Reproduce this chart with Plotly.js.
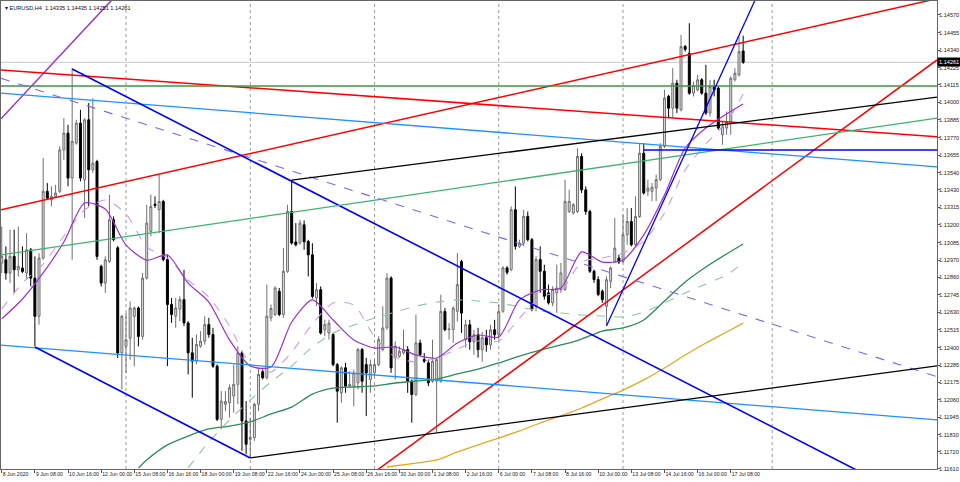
<!DOCTYPE html>
<html><head><meta charset="utf-8">
<script src="https://cdn.plot.ly/plotly-3.0.1.min.js"></script>
<style>html,body{margin:0;padding:0;background:#fff;}#chart{width:960px;height:482px;}</style>
</head><body><div id="chart"></div>
<script>
// ---- EURUSD H4 candles (bar index 0 = 8 Jun 2020 00:00) ----
const opens=[
1.12951,1.12973,1.12886,1.12995,1.12908,1.12919,1.12886,1.13038,1.12853,1.12604,
1.12984,1.13419,1.13364,1.13386,1.13419,1.13690,1.13799,1.13506,1.13734,1.13864,
1.13495,1.13886,1.13560,1.13614,1.12930,1.12821,1.12962,1.13234,1.13051,1.12365,
1.12408,1.12462,1.12604,1.12658,1.12473,1.12853,1.13158,1.13336,1.13300,1.13353,
1.12974,1.12681,1.12605,1.12650,1.12713,1.12561,1.12366,1.12312,1.12409,1.12442,
1.12550,1.12485,1.12279,1.11932,1.12030,1.12041,1.12084,1.12160,1.12366,1.11921,
1.11802,1.11813,1.12030,1.12242,1.12203,1.12594,1.12616,1.12767,1.12616,1.12898,
1.13288,1.13089,1.13082,1.13201,1.13092,1.13005,1.12723,1.12778,1.12517,1.12495,
1.12485,1.12289,1.12105,1.12268,1.12148,1.12148,1.12170,1.12387,1.12289,1.12192,
1.12235,1.12289,1.12387,1.12528,1.12854,1.12333,1.12344,1.12365,1.12387,1.12181,
1.12094,1.12430,1.12322,1.12300,1.12181,1.12181,1.12181,1.12636,1.12517,1.12517,
1.12636,1.12962,1.12451,1.12549,1.12438,1.12484,1.12386,1.12464,1.12418,1.12516,
1.12484,1.12637,1.12920,1.12909,1.13299,1.13061,1.13082,1.13256,1.13104,1.12670,
1.12974,1.12898,1.12757,1.12692,1.12757,1.12779,1.12779,1.13288,1.13278,1.13288,
1.13647,1.13429,1.13288,1.12898,1.12844,1.12768,1.12669,1.12832,1.12962,1.12984,
1.12962,1.13136,1.13223,1.13071,1.13255,1.13668,1.13420,1.13420,1.13441,1.13496,
1.13713,1.14039,1.13962,1.14125,1.13951,1.14364,1.14320,1.14060,1.14082,1.14147,
1.14060,1.13930,1.14104,1.14093,1.13788,1.13832,1.13875,1.14147,1.14179,1.14335];
const highs=[
1.13190,1.13060,1.13169,1.13169,1.13190,1.13060,1.13147,1.13050,1.12995,1.13016,
1.13636,1.13473,1.13452,1.13462,1.13713,1.13897,1.13853,1.14223,1.13886,1.13951,
1.13897,1.13995,1.14027,1.13625,1.12941,1.12995,1.13397,1.13256,1.13062,1.12614,
1.12625,1.12701,1.12669,1.12669,1.12886,1.13331,1.13397,1.13386,1.13527,1.13364,
1.13006,1.12724,1.12724,1.12735,1.12908,1.12572,1.12464,1.12485,1.12507,1.12605,
1.12594,1.12529,1.12290,1.12116,1.12116,1.12160,1.12290,1.12409,1.12377,1.12051,
1.11943,1.12041,1.12268,1.12257,1.12811,1.12681,1.12800,1.12789,1.13050,1.13332,
1.13494,1.13212,1.13234,1.13230,1.13103,1.13081,1.12821,1.12799,1.12582,1.12582,
1.12495,1.12300,1.12278,1.12300,1.12246,1.12257,1.12398,1.12398,1.12333,1.12322,
1.12322,1.12474,1.12669,1.12886,1.12865,1.12441,1.12409,1.12517,1.12409,1.12192,
1.12615,1.12452,1.12365,1.12322,1.12452,1.12333,1.12745,1.12658,1.12560,1.12669,
1.13017,1.12973,1.12581,1.12581,1.12516,1.12529,1.12503,1.12516,1.12549,1.12581,
1.12679,1.12931,1.12931,1.13321,1.13451,1.13104,1.13299,1.13288,1.13115,1.12996,
1.13061,1.12941,1.12811,1.12800,1.12941,1.12952,1.13495,1.13430,1.13343,1.13701,
1.13668,1.13451,1.13299,1.12909,1.12865,1.12779,1.12865,1.12930,1.13245,1.13006,
1.13266,1.13310,1.13310,1.13387,1.13734,1.13734,1.13496,1.13474,1.13528,1.13734,
1.14082,1.14049,1.14223,1.14147,1.14440,1.14375,1.14516,1.14136,1.14179,1.14158,
1.14245,1.14147,1.14147,1.14104,1.13875,1.13940,1.14168,1.14223,1.14429,1.14435];
const lows=[
1.12886,1.12843,1.12821,1.12756,1.12864,1.12886,1.12843,1.12799,1.12408,1.12549,
1.12973,1.13364,1.13321,1.13375,1.13408,1.13625,1.13452,1.12973,1.13723,1.13484,
1.13246,1.13321,1.13540,1.12973,1.12799,1.12756,1.12951,1.13093,1.12332,1.12126,
1.12234,1.12321,1.12278,1.12408,1.12451,1.12843,1.13125,1.13310,1.13147,1.12963,
1.12279,1.12561,1.12529,1.12572,1.12540,1.12225,1.12073,1.12290,1.12399,1.12420,
1.12464,1.12268,1.11921,1.11867,1.11986,1.11943,1.11975,1.12030,1.11726,1.11704,
1.11682,1.11791,1.11986,1.12192,1.12192,1.12572,1.12605,1.12605,1.12594,1.12887,
1.13071,1.13060,1.13071,1.13038,1.12864,1.12720,1.12669,1.12485,1.12474,1.12452,
1.12278,1.11910,1.12040,1.12105,1.12137,1.12018,1.12126,1.12105,1.11953,1.12105,
1.12213,1.12278,1.12376,1.12517,1.12235,1.12192,1.12333,1.12354,1.12105,1.11910,
1.12083,1.12344,1.12300,1.12148,1.12170,1.11847,1.12170,1.12506,1.12452,1.12430,
1.12571,1.12496,1.12399,1.12386,1.12353,1.12334,1.12308,1.12373,1.12386,1.12451,
1.12451,1.12627,1.12876,1.12898,1.13039,1.13050,1.13061,1.13093,1.12637,1.12637,
1.12757,1.12713,1.12681,1.12670,1.12627,1.12757,1.12768,1.13278,1.13267,1.13278,
1.13408,1.13267,1.12887,1.12822,1.12735,1.12692,1.12549,1.12788,1.12951,1.12945,
1.12951,1.13071,1.13060,1.13060,1.13245,1.13398,1.13387,1.13355,1.13355,1.13485,
1.13702,1.13897,1.13897,1.13930,1.13941,1.14331,1.14049,1.14038,1.14071,1.14049,
1.13918,1.13908,1.14038,1.13821,1.13723,1.13788,1.13788,1.14136,1.14168,1.14251];
const closes=[
1.12995,1.12886,1.12995,1.12908,1.12930,1.12897,1.13038,1.12853,1.12604,1.12984,
1.13419,1.13375,1.13386,1.13408,1.13690,1.13799,1.13506,1.13745,1.13864,1.13506,
1.13886,1.13560,1.13603,1.12995,1.12821,1.12973,1.13234,1.13104,1.12365,1.12604,
1.12451,1.12658,1.12658,1.12473,1.12853,1.13212,1.13321,1.13327,1.13353,1.12974,
1.12681,1.12616,1.12659,1.12713,1.12561,1.12366,1.12312,1.12420,1.12442,1.12550,
1.12485,1.12279,1.11932,1.12051,1.12047,1.12138,1.12160,1.12366,1.11921,1.11769,
1.11813,1.12030,1.12225,1.12203,1.12605,1.12655,1.12789,1.12616,1.12898,1.13288,
1.13082,1.13071,1.13212,1.13090,1.13005,1.12734,1.12778,1.12495,1.12550,1.12560,
1.12289,1.12116,1.12268,1.12148,1.12159,1.12235,1.12387,1.12181,1.12235,1.12289,
1.12289,1.12452,1.12528,1.12854,1.12268,1.12409,1.12376,1.12387,1.12181,1.12094,
1.12430,1.12354,1.12311,1.12170,1.12311,1.12322,1.12636,1.12517,1.12521,1.12658,
1.12811,1.12625,1.12549,1.12438,1.12484,1.12386,1.12464,1.12418,1.12516,1.12484,
1.12634,1.12920,1.12891,1.13299,1.13061,1.13082,1.13256,1.13104,1.12648,1.12974,
1.12898,1.12735,1.12692,1.12779,1.12789,1.12887,1.13354,1.13354,1.13332,1.13647,
1.13429,1.13288,1.12898,1.12844,1.12746,1.12713,1.12843,1.12919,1.13049,1.12958,
1.13136,1.13223,1.13071,1.13255,1.13668,1.13409,1.13441,1.13446,1.13496,1.13713,
1.14028,1.13962,1.14125,1.13962,1.14364,1.14346,1.14060,1.14110,1.14147,1.14060,
1.13930,1.14104,1.14082,1.13832,1.13842,1.13875,1.14158,1.14190,1.14331,1.14261];

// ---- time axis labels (every 8 bars) ----
const timeLabels=["8 Jun 2020","9 Jun 08:00","10 Jun 16:00","12 Jun 00:00","15 Jun 08:00","16 Jun 16:00","18 Jun 00:00","19 Jun 08:00","22 Jun 16:00","24 Jun 00:00","25 Jun 08:00","26 Jun 16:00","30 Jun 00:00","1 Jul 08:00","2 Jul 16:00","6 Jul 00:00","7 Jul 08:00","8 Jul 16:00","10 Jul 00:00","13 Jul 08:00","14 Jul 16:00","16 Jul 00:00","17 Jul 08:00"];
const priceTicks=[1.14570,1.14455,1.14340,1.14225,1.14115,1.14000,1.13885,1.13770,1.13655,1.13540,1.13430,1.13315,1.13200,1.13085,1.12970,1.12860,1.12745,1.12630,1.12515,1.12400,1.12285,1.12175,1.12060,1.11945,1.11830,1.11720,1.11610];
const separatorBars=[30,60,90,120,150,186];
const lastPrice=1.14261;

// ---- moving averages ----
const maFastT=[0,5,10,15,20,25,30,35,40,45,50,55,60,65,70,75,80,85,90,95,100,105,110,115,120,125,130,135,140,145,150,155,160,165,170,175,179];
const maFast=[1.12587,1.12717,1.12887,1.13089,1.13343,1.13304,1.13069,1.12971,1.13004,1.12821,1.12697,1.12450,1.12280,1.12273,1.12567,1.12711,1.12580,1.12450,1.12397,1.12404,1.12352,1.12332,1.12430,1.12482,1.12469,1.12711,1.12776,1.12789,1.13024,1.12958,1.12971,1.13135,1.13395,1.13702,1.13833,1.13924,1.13989];
const maSlowT=maFastT;
const maSlow=[1.12652,1.12821,1.12945,1.13128,1.13298,1.13363,1.13272,1.13056,1.12985,1.12841,1.12730,1.12541,1.12293,1.12241,1.12371,1.12554,1.12691,1.12678,1.12469,1.12339,1.12306,1.12332,1.12391,1.12443,1.12443,1.12593,1.12730,1.12769,1.12958,1.12985,1.13017,1.13095,1.13278,1.13559,1.13728,1.13872,1.14054];
const ma100T=[33,35,40,45,50,55,60,65,70,75,80,85,90,95,100,105,110,115,120,125,130,135,140,145,150,155,160,165,170,175,179];
const ma100=[1.11615,1.11667,1.11765,1.11823,1.11869,1.11888,1.11915,1.11967,1.12012,1.12097,1.12136,1.12143,1.12150,1.12169,1.12182,1.12195,1.12228,1.12260,1.12300,1.12345,1.12384,1.12417,1.12456,1.12508,1.12528,1.12580,1.12704,1.12828,1.12926,1.13011,1.13076];
const ma150T=[45,50,55,60,65,70,75,80,85,90,95,100,105,110,115,120,125,130,135,140,145,150,155,160,165,170,175,179];
const ma150=[1.11615,1.11784,1.11928,1.12058,1.12176,1.12280,1.12404,1.12495,1.12547,1.12593,1.12632,1.12671,1.12697,1.12711,1.12704,1.12691,1.12665,1.12639,1.12626,1.12613,1.12606,1.12600,1.12632,1.12691,1.12756,1.12815,1.12874,1.12952];
const ma200T=[93,100,105,110,115,120,125,130,135,140,145,150,155,160,165,170,175,179];
const ma200=[1.11621,1.11647,1.11667,1.11719,1.11765,1.11810,1.11856,1.11908,1.11954,1.12006,1.12065,1.12123,1.12189,1.12267,1.12352,1.12430,1.12502,1.12560];

// ---- drawn objects: anchors (bar index, price) ----
const purpleRayT=[0,25], purpleRayP=[1.13898,1.14622];
const redFlatT=[0,150], redFlatP=[1.14210,1.13921];
const redRiseT=[0,150], redRiseP=[1.13300,1.14214];
const redSteepT=[92,150], redSteepP=[1.11628,1.12776];
const greenLevelP=1.14107;
const blueUpperT=[0,150], blueUpperP=[1.14060,1.13740];
const blueLowerT=[0,150], blueLowerP=[1.12416,1.12092];
const dashedT=[0,150], dashedP=[1.14155,1.12863];
const channelTopT=[17,150], channelTopP=[1.14217,1.12380];
const channelBotT=[8,60], channelBotP=[1.12404,1.11680];
const blackUpperT=[70,150], blackUpperP=[1.13493,1.13771];
const blackLowerT=[60,105], blackLowerP=[1.11680,1.11843];
const seaGreenT=[0,150], seaGreenP=[1.13006,1.13598];
const steepBlueT=[146,165], steepBlueP=[1.12541,1.13667];
const blueLevelT=155, blueLevelP=1.13689;

// ---- build ----
const X_MIN=-0.179, X_MAX=225.8;
const FS=5.6, FSX=5.2;
const idx=opens.map((_,i)=>i);
function ext(t,p,left,right){
  const m=(p[1]-p[0])/(t[1]-t[0]);
  const x0=left?X_MIN:t[0], x1=right?X_MAX:t[1];
  return {x:[x0,x1],y:[p[0]+m*(x0-t[0]),p[0]+m*(x1-t[0])]};
}
const traces=[];
traces.push({type:'candlestick',x:idx,open:opens,high:highs,low:lows,close:closes,
  increasing:{line:{color:'#707070',width:1},fillcolor:'#dedede'},
  decreasing:{line:{color:'#000000',width:1},fillcolor:'#000000'},
  whiskerwidth:0,hoverinfo:'skip'});
function ma(t,v,color,width,dash){
  traces.push({type:'scatter',mode:'lines',x:t,y:v,line:{color:color,width:width,dash:dash||'solid',shape:'spline',smoothing:0.7},hoverinfo:'skip'});
}
ma(ma200T,ma200,'#E5A722',1.3);
ma(ma150T,ma150,'#93C4A0',1.1,'dash');
ma(ma100T,ma100,'#2E8B57',1.3);
ma(maSlowT,maSlow,'#C99BEA',1.1,'dash');
ma(maFastT,maFast,'#9B30D0',1.2);

const lines=[
  [ext(purpleRayT,purpleRayP,true,true),'#9932CC',1.5,'solid'],
  [ext(redFlatT,redFlatP,true,true),'#FF0000',1.5,'solid'],
  [ext(redRiseT,redRiseP,true,true),'#FF0000',1.5,'solid'],
  [ext(redSteepT,redSteepP,true,true),'#FF0000',1.5,'solid'],
  [{x:[X_MIN,X_MAX],y:[greenLevelP,greenLevelP]},'#3A9A3A',1.5,'solid'],
  [ext(blueUpperT,blueUpperP,true,true),'#1E90FF',1.3,'solid'],
  [ext(blueLowerT,blueLowerP,true,true),'#1E90FF',1.3,'solid'],
  [ext(dashedT,dashedP,true,true),'#7B68EE',1.1,'dash'],
  [ext(channelTopT,channelTopP,false,true),'#0000FF',1.6,'solid'],
  [ext(channelBotT,channelBotP,false,false),'#0000FF',1.6,'solid'],
  [ext(blackUpperT,blackUpperP,false,true),'#000000',1.3,'solid'],
  [ext(blackLowerT,blackLowerP,false,true),'#000000',1.3,'solid'],
  [ext(seaGreenT,seaGreenP,true,true),'#3CB371',1.3,'solid'],
  [ext(steepBlueT,steepBlueP,false,true),'#0000FF',1.3,'solid'],
  [{x:[blueLevelT,X_MAX],y:[blueLevelP,blueLevelP]},'#0000FF',1.6,'solid']
];
lines.forEach(l=>traces.push({type:'scatter',mode:'lines',x:l[0].x,y:l[0].y,line:{color:l[1],width:l[2],dash:l[3]},hoverinfo:'skip'}));

const shapes=separatorBars.map(b=>({type:'line',xref:'x',yref:'paper',x0:b,x1:b,y0:0,y1:1,layer:'below',line:{color:'#9a9a9a',width:1,dash:'dot'}}));
shapes.push({type:'line',xref:'paper',yref:'y',x0:0,x1:1,y0:lastPrice,y1:lastPrice,layer:'below',line:{color:'#c8c8c8',width:1}});

const n=opens.length-1;
const annotations=priceTicks.map(v=>({xref:'paper',yref:'y',x:1,y:v,xanchor:'left',yanchor:'middle',xshift:1,
  showarrow:false,text:v.toFixed(5),font:{size:FS,color:'#222'},borderpad:0}));
annotations.push({xref:'paper',yref:'paper',x:0,y:1,xanchor:'left',yanchor:'top',xshift:2,yshift:-2,showarrow:false,
  text:'▾ EURUSD,H4  '+[opens[n],highs[n],lows[n],closes[n]].map(v=>v.toFixed(5)).join(' '),
  font:{size:FS,color:'#111'}});
annotations.push({xref:'paper',yref:'y',x:1,y:lastPrice,xanchor:'left',yanchor:'middle',showarrow:false,
  text:lastPrice.toFixed(5),bgcolor:'#000000',borderpad:1,font:{size:FS,color:'#ffffff'}});

const layout={
  width:960,height:482,margin:{l:1,r:23,t:1,b:13,pad:0,autoexpand:false},
  paper_bgcolor:'#ffffff',plot_bgcolor:'#ffffff',showlegend:false,hovermode:false,
  font:{family:'Liberation Sans, Arial, sans-serif',size:FS,color:'#222'},
  boxgap:0.32,
  xaxis:{range:[X_MIN,X_MAX],showgrid:false,zeroline:false,rangeslider:{visible:false},
    tickmode:'array',tickvals:timeLabels.map((_,k)=>k*8),ticktext:timeLabels,tickangle:0,automargin:false,
    ticks:'outside',ticklen:3,tickcolor:'#555',tickwidth:1,ticklabelposition:'outside right',
    showline:true,linecolor:'#666',linewidth:1,mirror:true,fixedrange:true,tickfont:{size:FSX,color:'#222'}},
  yaxis:{range:[1.11608,1.14661],side:'right',showgrid:false,zeroline:false,automargin:false,
    tickmode:'array',tickvals:priceTicks,showticklabels:false,
    ticks:'outside',ticklen:2,tickcolor:'#555',tickwidth:1,
    showline:true,linecolor:'#666',linewidth:1,mirror:true,fixedrange:true},
  shapes:shapes,
  annotations:annotations
};
Plotly.newPlot('chart',traces,layout,{staticPlot:true,displayModeBar:false});
</script></body></html>
